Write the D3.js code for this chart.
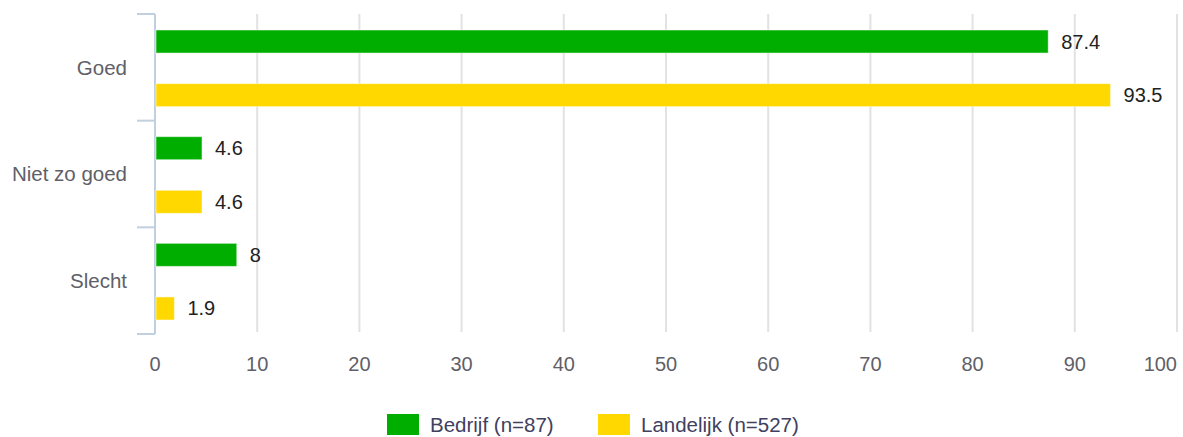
<!DOCTYPE html>
<html>
<head>
<meta charset="utf-8">
<script src="https://cdn.jsdelivr.net/npm/d3@7"></script>
<style>
  body { margin: 0; background: #fff; }
  svg { font-family: Arial, "Liberation Sans", sans-serif; }
</style>
</head>
<body>
<div id="chart"></div>
<script>
var categories = ["Goed", "Niet zo goed", "Slecht"];
var seriesNames = ["Bedrijf (n=87)", "Landelijk (n=527)"];
var bedrijf = [87.4, 4.6, 8];
var landelijk = [93.5, 4.6, 1.9];
var xTicks = [0, 10, 20, 30, 40, 50, 60, 70, 80, 90, 100];
var colors = ["#00ae00", "#ffd800"];

function init(){
    var w = 1183;
    var h = 437;
    var left = 155, right = 1177, top = 14, bottom = 334;

    var svg = d3.select("#chart")
                .append("svg")
                .attr("width", w)
                .attr("height", h);

    var x = d3.scaleLinear()
              .domain([0, 100])
              .range([left, right]);

    var y0 = d3.scaleBand()
               .domain(categories)
               .range([top, bottom]);

    var y1 = d3.scaleBand()
               .domain([0, 1])
               .range([16, y0.bandwidth() - 14])
               .paddingInner(0.57);

    // gridlines
    svg.selectAll("line.grid")
       .data(xTicks.slice(1))
       .enter()
       .append("line")
       .attr("class", "grid")
       .attr("x1", function(d){ return x(d); })
       .attr("x2", function(d){ return x(d); })
       .attr("y1", top)
       .attr("y2", bottom - 2)
       .style("stroke", "#e2e2e2")
       .style("stroke-width", 2);

    // left axis line and ticks
    svg.append("line")
       .attr("x1", left).attr("x2", left)
       .attr("y1", top).attr("y2", bottom)
       .style("stroke", "#c0d0e0")
       .style("stroke-width", 2);

    var bounds = y0.domain().map(function(c){ return y0(c); }).concat([bottom]);
    svg.selectAll("line.tick")
       .data(bounds)
       .enter()
       .append("line")
       .attr("class", "tick")
       .attr("x1", left - 18).attr("x2", left)
       .attr("y1", function(d){ return d; })
       .attr("y2", function(d){ return d; })
       .style("stroke", "#c0d0e0")
       .style("stroke-width", 2);

    // category labels
    svg.selectAll("text.cat")
       .data(categories)
       .enter()
       .append("text")
       .attr("class", "cat")
       .attr("x", 127)
       .attr("y", function(d){ return y0(d) + y0.bandwidth() / 2; })
       .attr("dy", "0.35em")
       .attr("text-anchor", "end")
       .style("font-size", "20.5px")
       .style("fill", "#606068")
       .text(function(d){ return d; });

    // x tick labels
    svg.selectAll("text.xt")
       .data(xTicks)
       .enter()
       .append("text")
       .attr("class", "xt")
       .attr("x", function(d){ return x(d); })
       .attr("y", 371)
       .attr("text-anchor", function(d){ return d === 100 ? "end" : "middle"; })
       .style("font-size", "20px")
       .style("fill", "#606068")
       .text(function(d){ return d; });

    var rows = [];
    categories.forEach(function(c, i){
        rows.push({cat: c, s: 0, v: bedrijf[i]});
        rows.push({cat: c, s: 1, v: landelijk[i]});
    });

    var g = svg.selectAll("g.bar")
               .data(rows)
               .enter()
               .append("g")
               .attr("class", "bar");

    g.append("rect")
     .attr("x", x(0) + 1)
     .attr("y", function(d){ return y0(d.cat) + y1(d.s); })
     .attr("width", function(d){ return x(d.v) - x(0) - 1; })
     .attr("height", y1.bandwidth())
     .style("fill", function(d){ return colors[d.s]; })
     .style("stroke", "#ffffff")
     .style("stroke-opacity", 0.5)
     .style("stroke-width", 1);

    g.append("text")
     .attr("x", function(d){ return x(d.v) + 13; })
     .attr("y", function(d){ return y0(d.cat) + y1(d.s) + y1.bandwidth() / 2; })
     .attr("dy", "0.35em")
     .style("font-size", "20px")
     .style("fill", "#222")
     .text(function(d){ return d.v; });

    // legend
    var legendX = [387, 598];
    var leg = svg.selectAll("g.legend")
                 .data(seriesNames)
                 .enter()
                 .append("g")
                 .attr("class", "legend");

    leg.append("rect")
       .attr("x", function(d, i){ return legendX[i]; })
       .attr("y", 414)
       .attr("width", 32)
       .attr("height", 21)
       .style("fill", function(d, i){ return colors[i]; });

    leg.append("text")
       .attr("x", function(d, i){ return legendX[i] + 43; })
       .attr("y", 425)
       .attr("dy", "0.35em")
       .style("font-size", "20.5px")
       .style("fill", "#404060")
       .text(function(d){ return d; });
}
window.onload = init;
</script>
</body>
</html>
